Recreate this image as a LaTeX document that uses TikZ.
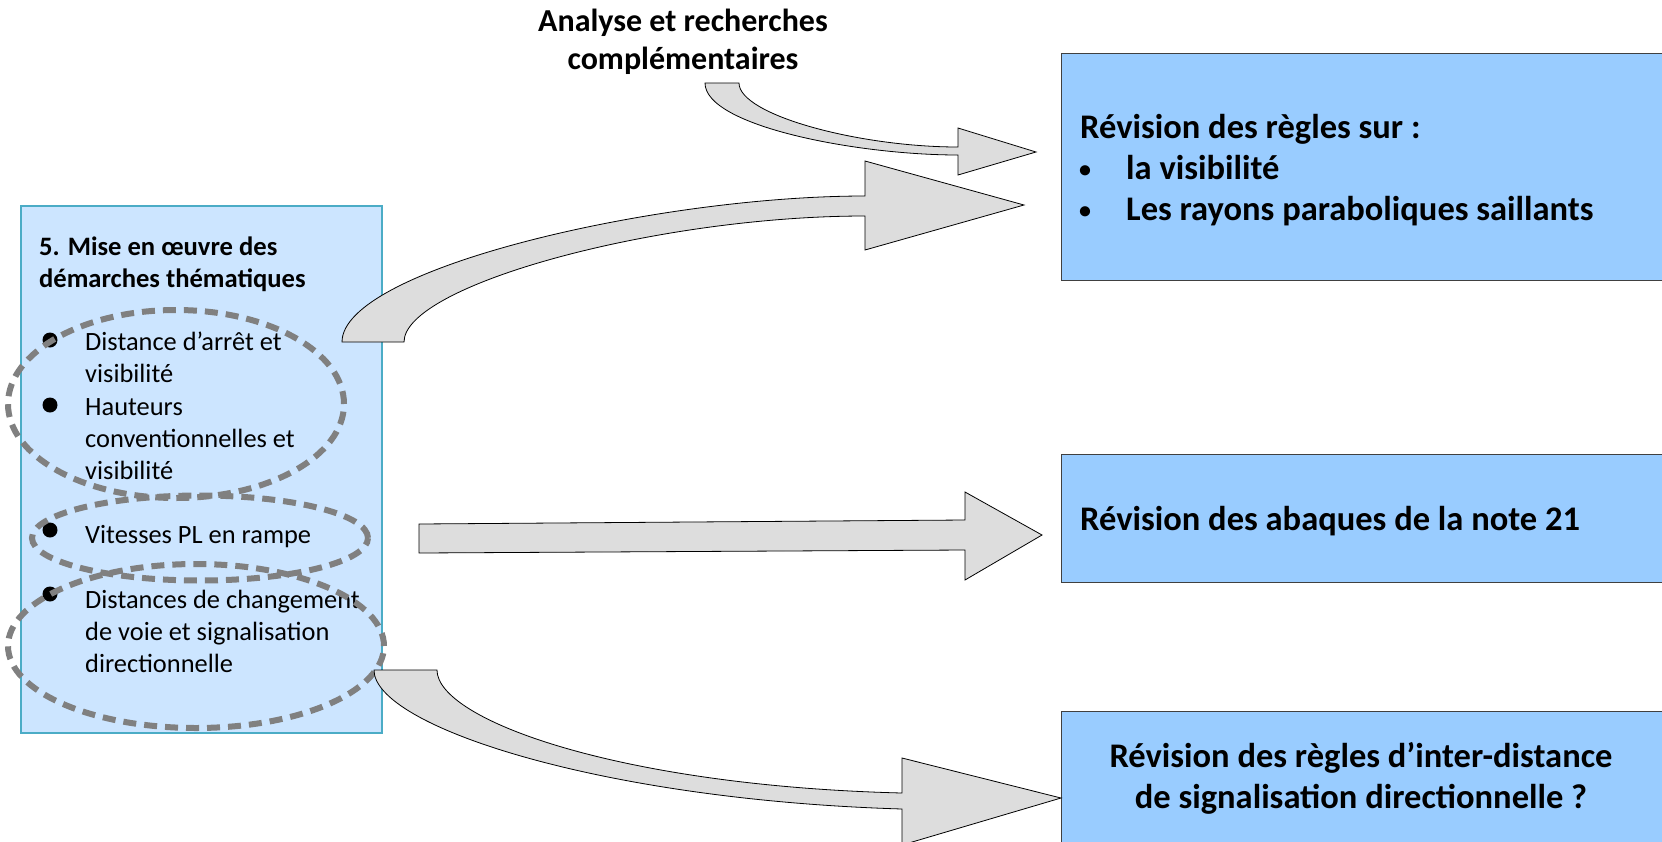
\documentclass[tikz,border=0pt]{standalone}
\usepackage{fontspec}
\setmainfont{Carlito}
\usetikzlibrary{shapes.geometric}
\definecolor{paleblue}{HTML}{CCE5FF}
\definecolor{tealedge}{HTML}{4BACC6}
\definecolor{resultblue}{HTML}{99CCFF}
\definecolor{arrowgray}{HTML}{DDDDDD}
\definecolor{ringgray}{HTML}{808080}
\begin{document}
\begin{tikzpicture}[x=1pt, y=-1pt,
  themebox/.style={draw=tealedge, line width=1.5pt, fill=paleblue, anchor=north west, inner sep=0},
  resultbox/.style={draw=black!75, line width=1.2pt, fill=resultblue, anchor=north west, inner sep=0, minimum width=620},
  ring/.style={ellipse, draw=ringgray, line width=6pt, dash pattern=on 13pt off 8pt},
  bigarrow/.style={draw=black, line width=0.8pt, fill=arrowgray},
  dot/.style={circle, fill, inner sep=0, minimum size=15},
  item/.style={anchor=base west, align=left, inner sep=0, font=\fontsize{26.4}{32}\selectfont},
  result/.style={anchor=base west, inner sep=0, font=\bfseries\fontsize{34.5}{41}\selectfont}]
\useasboundingbox (0,0) rectangle (1662,841);

\node[themebox, minimum width=361, minimum height=527] (themes) at (20,205) {};
\node[anchor=base west, align=left, inner sep=0, font=\bfseries\fontsize{26.6}{32}\selectfont] (title) at (39,287) {5. Mise en œuvre des\\démarches thématiques};
\node[item] (arret) at (85,382) {Distance d’arrêt et\\visibilité};
\node[item] (hauteurs) at (85,479) {Hauteurs\\conventionnelles et\\visibilité};
\node[item] (vitesses) at (85,543) {Vitesses PL en rampe};
\node[item] (changement) at (85,672) {Distances de changement\\de voie et signalisation\\directionnelle};
\node[dot] (dot1) at (50,340) {};
\node[dot] (dot2) at (50,405) {};
\node[dot] (dot3) at (50,530) {};
\node[dot] (dot4) at (50,594) {};
\node[ring, minimum width=336, minimum height=188] (ringA) at (176,404) {};
\node[ring, minimum width=336, minimum height=85] (ringB) at (200,538) {};
\node[ring, minimum width=376, minimum height=164] (ringC) at (196,646) {};

\node[align=center, inner sep=0, font=\bfseries\fontsize{32}{38}\selectfont] (analyse) at (683,42) {Analyse et recherches\\complémentaires};

\node[resultbox, minimum height=227] (regles) at (1061,53) {};
\node[result] (reglesT) at (1080,138) {Révision des règles sur :};
\node[result, font=\bfseries\fontsize{24}{41}\selectfont] (bul1) at (1079,177) {•};
\node[result] (visi) at (1126,179) {la visibilité};
\node[result, font=\bfseries\fontsize{24}{41}\selectfont] (bul2) at (1079,218) {•};
\node[result] (rayons) at (1126,220) {Les rayons paraboliques saillants};
\node[resultbox, minimum height=128] (abaques) at (1061,454) {};
\node[result] (abaquesT) at (1080,530) {Révision des abaques de la note 21};
\node[resultbox, minimum height=140] (interdist) at (1061,711) {};
\node[align=center, inner sep=0, font=\bfseries\fontsize{34.5}{41}\selectfont] (interdistT) at (1361,778) {Révision des règles d’inter-distance\\de signalisation directionnelle ?};

\draw[bigarrow] (705,83) .. controls (705,126) and (857,155) .. (958,155) -- (958,175) -- (1036,152) -- (958,128) -- (958,147) .. controls (859,147) and (739,115) .. (739,83) -- cycle;
\draw[bigarrow] (342,342) .. controls (342,269) and (656,196) .. (865,196) -- (865,161) -- (1024,205) -- (865,250) -- (865,216) .. controls (658,216) and (404,285) .. (404,342) -- cycle;
\draw[bigarrow] (419,524) -- (965,520) -- (965,492) -- (1042,535) -- (965,580) -- (965,550) -- (419,553) -- cycle;
\draw[bigarrow] (374,670) .. controls (374,726) and (600,800) .. (902,809) -- (902,845) -- (1061,798) -- (902,758) -- (902,793) .. controls (620,786) and (437,720) .. (437,670) -- cycle;
\end{tikzpicture}
\end{document}
